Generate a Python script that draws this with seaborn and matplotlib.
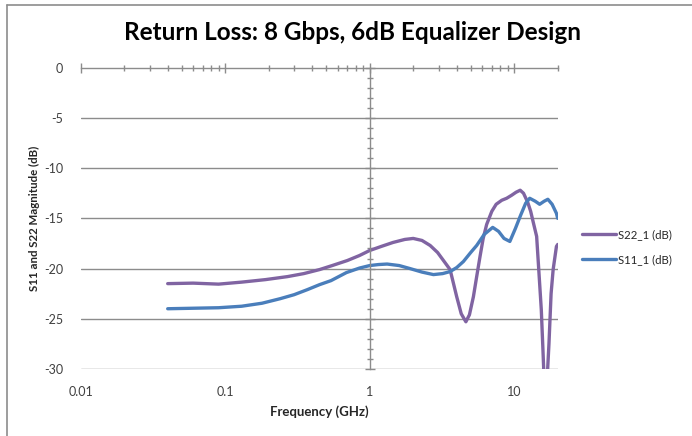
import matplotlib
matplotlib.use("Agg")
import matplotlib.pyplot as plt
from matplotlib.lines import Line2D
from matplotlib.ticker import FixedLocator, MultipleLocator
import seaborn as sns
import pandas as pd

# S22 return loss (purple trace)
s22_freq = [0.04, 0.06, 0.09, 0.13, 0.19, 0.27, 0.35, 0.45, 0.55, 0.7, 0.85,
            1.0, 1.2, 1.45, 1.75, 2.0, 2.3, 2.62, 2.95, 3.24, 3.6, 4.0, 4.3,
            4.63, 4.9, 5.22, 5.5, 5.8, 6.1, 6.45, 7.0, 7.5, 8.2, 8.87, 9.6,
            10.3, 11.0, 11.6, 12.4, 13.0, 13.5, 14.3, 15.0, 15.4, 15.8, 16.1,
            16.9, 17.4, 18.0, 18.6, 19.6, 20.0]
s22_db = [-21.5, -21.45, -21.55, -21.35, -21.1, -20.8, -20.5, -20.1, -19.7,
          -19.2, -18.7, -18.2, -17.8, -17.4, -17.1, -17.0, -17.2, -17.7, -18.4,
          -19.2, -20.1, -22.8, -24.5, -25.3, -24.6, -22.8, -20.8, -18.8, -17.0,
          -15.6, -14.3, -13.6, -13.2, -13.0, -12.7, -12.4, -12.2, -12.5, -13.4,
          -14.3, -15.3, -16.8, -21.5, -24.1, -28.0, -31.0, -31.0, -27.5, -22.5,
          -20.1, -17.8, -17.6]

# S11 return loss (blue trace)
s11_freq = [0.04, 0.06, 0.09, 0.13, 0.18, 0.24, 0.3, 0.37, 0.45, 0.54, 0.69,
            0.85, 1.0, 1.15, 1.32, 1.6, 1.9, 2.3, 2.76, 3.2, 3.6, 4.0, 4.45,
            5.0, 5.5, 6.2, 7.1, 7.8, 8.5, 9.33, 10.2, 11.0, 12.0, 12.8, 14.0,
            15.0, 16.1, 17.1, 18.3, 19.6, 20.0]
s11_db = [-24.0, -23.95, -23.9, -23.75, -23.45, -23.0, -22.6, -22.1, -21.6,
          -21.2, -20.4, -19.95, -19.7, -19.6, -19.55, -19.7, -20.0, -20.35,
          -20.6, -20.5, -20.3, -19.9, -19.3, -18.4, -17.7, -16.6, -15.9, -16.3,
          -17.0, -17.3, -16.0, -14.8, -13.5, -13.0, -13.3, -13.6, -13.3, -13.1,
          -13.6, -14.5, -15.0]

x_ticks = [0.01, 0.1, 1, 10]
x_tick_labels = ["0.01", "0.1", "1", "10"]
y_ticks = [0, -5, -10, -15, -20, -25, -30]

series_names = ["S22_1 (dB)", "S11_1 (dB)"]
series_colors = ["#8064A2", "#4A7EBB"]

df = pd.concat([
    pd.DataFrame({"freq": s22_freq, "db": s22_db, "series": series_names[0]}),
    pd.DataFrame({"freq": s11_freq, "db": s11_db, "series": series_names[1]}),
], ignore_index=True)

sns.set_theme(style="white")
plt.rcParams["font.family"] = ["Lato", "DejaVu Sans"]
plt.rcParams["axes.unicode_minus"] = False

fig = plt.figure(figsize=(6.92, 4.36), dpi=100)
ax = fig.add_axes([80.7 / 692, 1 - 369 / 436, (557.7 - 80.7) / 692, (369 - 67.7) / 436])

sns.lineplot(data=df, x="freq", y="db", hue="series", hue_order=series_names,
             palette=series_colors, linewidth=2.4, sort=False, estimator=None,
             ax=ax, legend=True)

ax.set_xscale("log")
ax.set_xlim(0.01, 20)
ax.set_ylim(-30, 0)

grid_col = "#8c8c8c"
for y in y_ticks[1:]:
    ax.axhline(y, color=grid_col, linewidth=1.0, zorder=0)

# spines: top spine is the x axis at 0 dB, right spine moved to 1 GHz acts as y axis
ax.spines["bottom"].set_visible(False)
ax.spines["left"].set_visible(False)
ax.spines["top"].set_color(grid_col)
ax.spines["top"].set_linewidth(1.0)
ax.spines["right"].set_position(("data", 1))
ax.spines["right"].set_color(grid_col)
ax.spines["right"].set_linewidth(1.0)

ax.xaxis.set_major_locator(FixedLocator(x_ticks))
ax.set_xticklabels(x_tick_labels)
ax.tick_params(axis="x", which="both", top=True, bottom=False, labeltop=False,
               labelbottom=True, direction="inout", color=grid_col,
               labelsize=9, labelcolor="#404040", pad=9)
ax.tick_params(axis="x", which="major", length=7, width=1.0)
ax.tick_params(axis="x", which="minor", length=5, width=1.0)

ax.set_yticks(y_ticks)
ax.yaxis.set_minor_locator(MultipleLocator(1))
ax.tick_params(axis="y", which="both", left=False, right=True, labelleft=True,
               labelright=False, direction="inout", color=grid_col,
               labelsize=9, labelcolor="#404040", pad=9)
ax.tick_params(axis="y", which="major", length=7, width=1.0)
ax.tick_params(axis="y", which="minor", length=5, width=1.0)

ax.set_xlabel("Frequency (GHz)", fontsize=9.5, fontweight="bold", color="#262626",
              labelpad=5)
ax.set_ylabel("S11 and S22 Magnitude (dB)", fontsize=8.3, fontweight="bold",
              color="#262626")
ax.yaxis.set_label_coords(-41 / 477, 0.5)

fig.text(352 / 692, 1 - 33 / 436, "Return Loss: 8 Gbps, 6dB Equalizer Design",
         ha="center", va="center", fontsize=17.5, fontweight="bold", color="black")

handles, labels = ax.get_legend_handles_labels()
ax.legend(handles, labels, loc="center left", bbox_to_anchor=(1.03, 0.405),
          frameon=False, fontsize=8.2, handlelength=3.0, handletextpad=0.1,
          labelspacing=1.25, labelcolor="#262626")

# outer chart border (top and left edges)
fig.add_artist(Line2D([7 / 692, 1], [1 - 5 / 436, 1 - 5 / 436],
                      transform=fig.transFigure, color="#8c8c8c", linewidth=1.2))
fig.add_artist(Line2D([7 / 692, 7 / 692], [0, 1 - 5 / 436],
                      transform=fig.transFigure, color="#8c8c8c", linewidth=1.2))

fig.savefig("out.png", dpi=100, facecolor="white")
